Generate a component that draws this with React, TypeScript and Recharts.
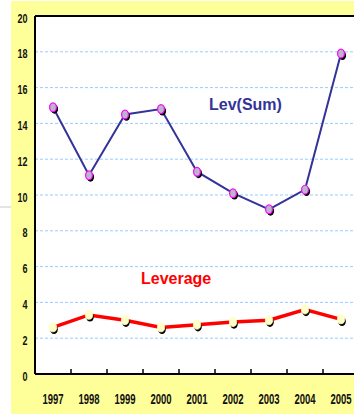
import React from "react";
import { LineChart, Line, XAxis, YAxis, CartesianGrid, ReferenceLine } from "recharts";

const years = ["1997", "1998", "1999", "2000", "2001", "2002", "2003", "2004", "2005"];
const levSum = [14.9, 11.1, 14.5, 14.8, 11.3, 10.1, 9.2, 10.3, 17.9];
const leverage = [2.6, 3.3, 3.0, 2.6, 2.75, 2.9, 3.0, 3.6, 3.05];
const yTicks = [0, 2, 4, 6, 8, 10, 12, 14, 16, 18, 20];

const data = years.map((year, i) => ({ year, levSum: levSum[i], leverage: leverage[i] }));

const CHART_W = 362;
const CHART_H = 414;
const MARGIN = { top: 16, right: 3, left: 0, bottom: 0 };
const Y_AXIS_W = 35;
const X_AXIS_H = 40;
const BAND = (CHART_W - MARGIN.left - MARGIN.right - Y_AXIS_W) / years.length;

const tickFont = "'Liberation Sans', Arial, sans-serif";

// Condensed bold tick labels
const XTick = (props: any) => {
  const { x, y, payload } = props;
  return (
    <g>
      <line x1={x + BAND / 2} x2={x + BAND / 2} y1={y - 5} y2={y} stroke="#000" strokeWidth={1.5} />
      <text
        transform={`translate(${x},${y + 30}) scale(0.68,1)`}
        textAnchor="middle"
        fontFamily={tickFont}
        fontWeight="bold"
        fontSize={14}
        fill="#111"
      >
        {payload.value}
      </text>
    </g>
  );
};

const YTick = (props: any) => {
  const { x, y, payload } = props;
  return (
    <text
      transform={`translate(${x},${y + 6.5}) scale(0.72,1)`}
      textAnchor="end"
      fontFamily={tickFont}
      fontWeight="bold"
      fontSize={12.5}
      fill="#111"
    >
      {payload.value}
    </text>
  );
};

const SumDot = (props: any) => {
  const { cx, cy, index } = props;
  if (cx == null || cy == null) return null;
  return (
    <g key={`s${index}`}>
      <ellipse cx={cx + 1.5} cy={cy + 1.8} rx={3.6} ry={4.6} fill="#000" />
      <ellipse cx={cx} cy={cy} rx={3.4} ry={4.4} fill="#b8b8c8" stroke="#ff00ff" strokeWidth={1.2} />
    </g>
  );
};

const LevDot = (props: any) => {
  const { cx, cy, index } = props;
  if (cx == null || cy == null) return null;
  return (
    <g key={`l${index}`}>
      <ellipse cx={cx + 1} cy={cy + 2} rx={3.8} ry={4.6} fill="#000" />
      <ellipse cx={cx} cy={cy} rx={3.6} ry={4.4} fill="#ffffcc" stroke="#ffffaa" strokeWidth={0.8} />
    </g>
  );
};

export default function App() {
  return (
    <div style={{ position: "absolute", left: 0, top: 0, width: 354, height: 414, overflow: "hidden", background: "#fff" }}>
      <div style={{ position: "absolute", left: 11, top: 1, width: 343, height: 413, background: "#ffff99" }} />
      <div style={{ position: "absolute", left: 0, top: 206, width: 11, height: 2, background: "#e4e4e4" }} />
      <div style={{ position: "absolute", left: 0, top: 0 }}>
        <LineChart width={CHART_W} height={CHART_H} data={data} margin={MARGIN}>
          <CartesianGrid horizontal vertical={false} fill="#ffffff" stroke="#99ccff" strokeDasharray="3 2" />
          <XAxis
            dataKey="year"
            scale="band"
            height={X_AXIS_H}
            axisLine={{ stroke: "#000", strokeWidth: 2 }}
            tickLine={false}
            tickSize={0}
            tickMargin={0}
            tick={<XTick />}
            interval={0}
          />
          <YAxis
            domain={[0, 20]}
            ticks={yTicks}
            width={Y_AXIS_W}
            axisLine={{ stroke: "#000", strokeWidth: 2 }}
            tickLine={false}
            tickSize={0}
            tickMargin={7.5}
            tick={<YTick />}
            interval={0}
          />
          <ReferenceLine y={20} stroke="#000" strokeWidth={2} />
          <Line
            dataKey="levSum"
            stroke="#333399"
            strokeWidth={2}
            dot={<SumDot />}
            isAnimationActive={false}
          />
          <Line
            dataKey="leverage"
            stroke="#ff0000"
            strokeWidth={3.5}
            dot={<LevDot />}
            isAnimationActive={false}
          />
        </LineChart>
      </div>
      <div style={{ position: "absolute", left: 209, top: 96, fontFamily: "'Liberation Sans', Arial, sans-serif", fontWeight: "bold", fontSize: 16, color: "#333399", whiteSpace: "nowrap" }}>
        Lev(Sum)
      </div>
      <div style={{ position: "absolute", left: 141, top: 270, fontFamily: "'Liberation Sans', Arial, sans-serif", fontWeight: "bold", fontSize: 16, color: "#ff0000", whiteSpace: "nowrap" }}>
        Leverage
      </div>
    </div>
  );
}
